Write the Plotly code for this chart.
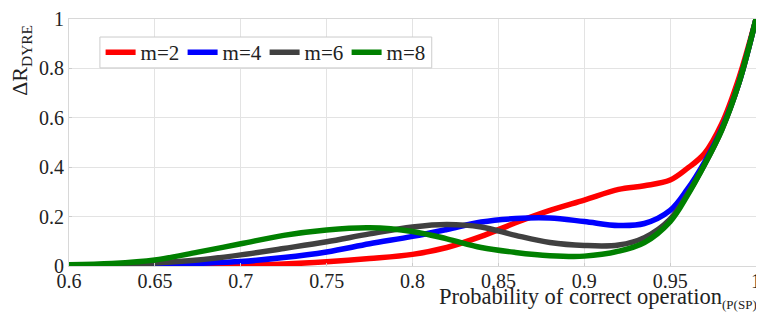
import plotly.graph_objects as go

x_vals = [0.6, 0.625, 0.65, 0.675, 0.7, 0.725, 0.75, 0.775, 0.8, 0.82, 0.84, 0.86, 0.88,
          0.9, 0.92, 0.935, 0.95, 0.96, 0.97, 0.98, 0.99, 1.0]

m2 = [0.0, 0.0, 0.001, 0.002, 0.004, 0.008, 0.017, 0.03, 0.047, 0.075, 0.12, 0.175, 0.225,
      0.267, 0.31, 0.325, 0.348, 0.395, 0.455, 0.575, 0.76, 1.0]
m4 = [0.003, 0.004, 0.006, 0.011, 0.018, 0.034, 0.057, 0.09, 0.12, 0.148, 0.178, 0.192, 0.194,
      0.18, 0.164, 0.172, 0.225, 0.31, 0.42, 0.555, 0.74, 1.0]
m6 = [0.004, 0.006, 0.012, 0.024, 0.045, 0.071, 0.098, 0.13, 0.158, 0.168, 0.158, 0.124, 0.095,
      0.083, 0.085, 0.115, 0.19, 0.29, 0.41, 0.55, 0.74, 1.0]
m8 = [0.005, 0.01, 0.024, 0.056, 0.09, 0.124, 0.146, 0.155, 0.14, 0.11, 0.075, 0.055, 0.042,
      0.04, 0.06, 0.095, 0.18, 0.285, 0.41, 0.55, 0.74, 1.0]

series_names = ["m=2", "m=4", "m=6", "m=8"]
series_values = [m2, m4, m6, m8]
series_colors = ["#ff0000", "#0000ff", "#404040", "#008000"]

x_tickvals = [0.6, 0.65, 0.7, 0.75, 0.8, 0.85, 0.9, 0.95, 1.0]
x_ticktext = ["0.6", "0.65", "0.7", "0.75", "0.8", "0.85", "0.9", "0.95", "1"]
y_tickvals = [0, 0.2, 0.4, 0.6, 0.8, 1.0]
y_ticktext = ["0", "0.2", "0.4", "0.6", "0.8", "1"]

FONT = "Liberation Serif, Times New Roman, serif"

fig = go.Figure()
for name, vals, col in zip(series_names, series_values, series_colors):
    fig.add_trace(go.Scatter(x=x_vals, y=vals, mode="lines", name=name,
                             line=dict(color=col, width=5.5, shape="spline", smoothing=1)))

# page body has an 8px margin, so the figure is sized to fit the 764x322 window
fig.update_layout(
    width=756, height=314,
    margin=dict(l=61, r=8, t=11, b=56, autoexpand=False),
    paper_bgcolor="white", plot_bgcolor="white",
    font=dict(family=FONT, size=20, color="#222222"),
    showlegend=True,
    legend=dict(orientation="h", x=0.046, y=0.864, xanchor="left", yanchor="middle",
                bgcolor="rgba(0,0,0,0)", borderwidth=0,
                font=dict(family=FONT, size=21, color="#222222"),
                itemwidth=30, entrywidth=37, tracegroupgap=0),
)
# legend frame
fig.add_shape(type="rect", xref="paper", yref="paper", x0=0.045, x1=0.528, y0=0.802, y1=0.927,
              line=dict(color="#cccccc", width=1), fillcolor="white", layer="above")
axis_style = dict(showgrid=True, gridcolor="#e3e3e3", gridwidth=1, automargin=False,
                  showline=True, linecolor="#d8d8d8", mirror=True,
                  ticks="inside", ticklen=3, tickcolor="#cccccc", zeroline=False,
                  ticklabeloverflow="allow")
fig.update_xaxes(range=[0.6, 1.0], tickvals=x_tickvals, ticktext=x_ticktext,
                 ticklabelstandoff=-3, **axis_style)
fig.update_yaxes(range=[0, 1.0], tickvals=y_tickvals, ticktext=y_ticktext, **axis_style)

fig.add_annotation(text="ΔR<sub>DYRE</sub>", textangle=-90, xref="paper", yref="paper",
                   x=-0.069, y=0.985, xanchor="center", yanchor="top", showarrow=False,
                   font=dict(family=FONT, size=22, color="#222222"))
fig.add_annotation(text="Probability of correct operation<sub><span style='font-size:13px'>(P(SP))</span></sub>",
                   xref="paper", yref="paper", x=1.01, y=-0.065, xanchor="right", yanchor="top",
                   showarrow=False, font=dict(family=FONT, size=22.5, color="#222222"))

fig.write_html("out.html")
